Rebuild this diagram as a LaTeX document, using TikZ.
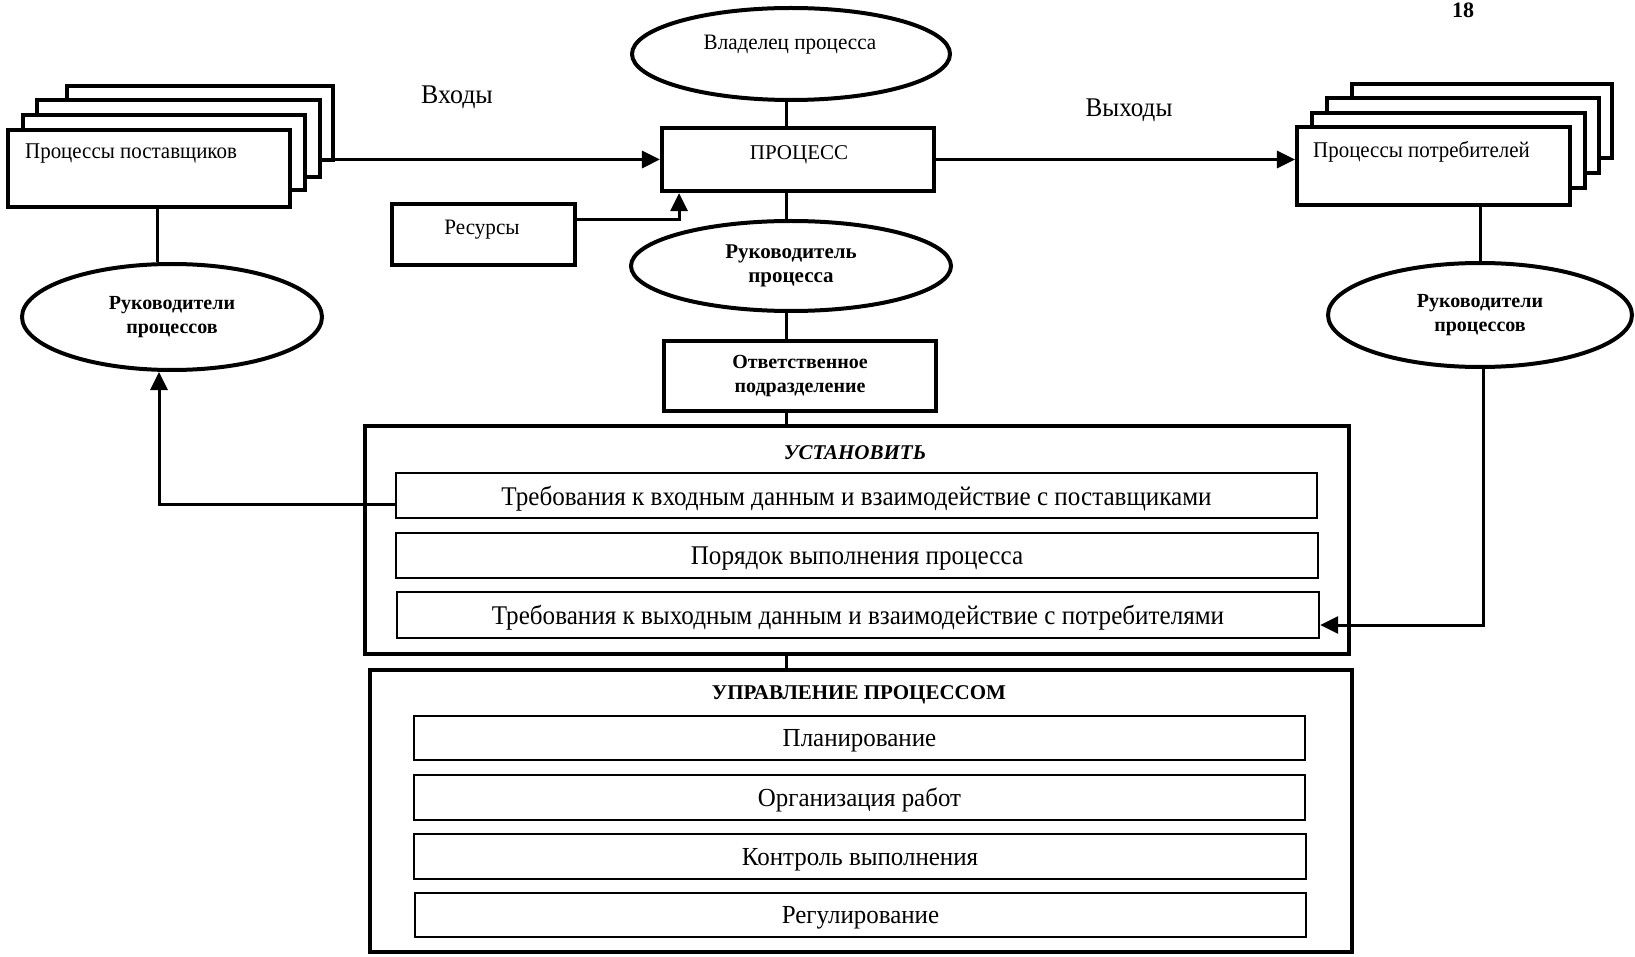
\documentclass[tikz,border=0pt]{standalone}
\usepackage{fontspec}
\setmainfont{Liberation Serif}
\newfontfamily\fA{Liberation Serif}[FakeStretch=0.93]
\newfontfamily\fB{Liberation Serif}[FakeStretch=0.96]
\usetikzlibrary{arrows.meta,shapes.geometric}
\begin{document}
\begin{tikzpicture}[x=1pt,y=-1pt,
  thickbox/.style={draw=black, line width=4.2pt, fill=white, rectangle, inner sep=0pt},
  innerbox/.style={draw=black, line width=2.2pt, fill=white, rectangle, inner sep=0pt, text depth=0pt},
  oval/.style={draw=black, line width=4pt, fill=white, ellipse, inner sep=0pt, align=center},
  conn/.style={line width=3pt},
  arr/.style={conn, -{Triangle[length=18pt,width=17pt]}},
  ]
\useasboundingbox (0,0) rectangle (1635,957);

% page number
\node[font=\fontsize{22}{24}\selectfont\bfseries] (pg) at (1463,10) {18};

% supplier stack
\node[thickbox, minimum width=266pt, minimum height=74pt] (s4) at (200,123) {};
\node[thickbox, minimum width=283pt, minimum height=77pt] (s3) at (178.5,138.5) {};
\node[thickbox, minimum width=282pt, minimum height=75pt] (s2) at (164,152.5) {};
\node[thickbox, minimum width=282pt, minimum height=77pt] (s1) at (149,168.5) {};
\node[anchor=west, inner sep=0pt, font=\fontsize{22.5}{26}\fA] (s1t) at (25,154) {Процессы поставщиков};

% consumer stack
\node[thickbox, minimum width=260pt, minimum height=74pt] (c4) at (1482,121) {};
\node[thickbox, minimum width=272pt, minimum height=75pt] (c3) at (1463,135.5) {};
\node[thickbox, minimum width=273pt, minimum height=75pt] (c2) at (1448.5,150.5) {};
\node[thickbox, minimum width=273pt, minimum height=78pt] (c1) at (1433.5,166) {};
\node[anchor=west, inner sep=0pt, font=\fontsize{22.5}{26}\fA] (c1t) at (1313,152) {Процессы потребителей};

% labels
\node[font=\fontsize{27}{30}\fB] (in) at (457,97) {Входы};
\node[font=\fontsize{27}{30}\fA] (out) at (1129,110) {Выходы};

% centre column
\node[oval, minimum width=318pt, minimum height=92pt] (own) at (791,54) {};
\node[font=\fontsize{22}{25}\fB] (ownt) at (790,45) {Владелец процесса};
\node[thickbox, minimum width=272pt, minimum height=63pt] (proc) at (798,159.5) {};
\node[font=\fontsize{21}{24}\selectfont] (proct) at (799,155) {ПРОЦЕСС};
\node[thickbox, minimum width=183pt, minimum height=61pt] (res) at (483.5,234.5) {};
\node[font=\fontsize{22}{25}\fB] (rest) at (482,230) {Ресурсы};
\node[oval, minimum width=320pt, minimum height=90pt, font=\fontsize{21}{24}\selectfont\bfseries] (head) at (791,266) {Руководитель\\процесса};
\node[thickbox, minimum width=272pt, minimum height=70pt, align=center, font=\fontsize{20}{24}\selectfont\bfseries] (dept) at (800,376) {Ответственное\\подразделение};

% side ellipses
\node[oval, minimum width=300pt, minimum height=106pt, font=\fontsize{20}{24}\selectfont\bfseries] (lm) at (172,317) {Руководители\\процессов};
\node[oval, minimum width=304pt, minimum height=104pt, font=\fontsize{20}{24}\selectfont\bfseries] (rm) at (1480,315) {Руководители\\процессов};

% УСТАНОВИТЬ frame
\node[thickbox, minimum width=984pt, minimum height=228pt] (setf) at (857,540) {};
\node[font=\fontsize{21}{24}\selectfont\bfseries\itshape] (sett) at (855,453) {УСТАНОВИТЬ};
\node[innerbox, minimum width=921pt, minimum height=45pt, font=\fontsize{27}{30}\fA] (ia) at (856.5,495.5) {Требования к входным данным и взаимодействие с поставщиками};
\node[innerbox, minimum width=922pt, minimum height=45pt, font=\fontsize{27}{30}\fA] (ib) at (857,555.5) {Порядок выполнения процесса};
\node[innerbox, minimum width=922pt, minimum height=46pt, font=\fontsize{27}{30}\fA] (ic) at (858,615) {Требования к выходным данным и взаимодействие с потребителями};

% УПРАВЛЕНИЕ frame
\node[thickbox, minimum width=982pt, minimum height=282pt] (mgf) at (861,811) {};
\node[font=\fontsize{21}{24}\selectfont\bfseries] (mgt) at (859,695) {УПРАВЛЕНИЕ ПРОЦЕССОМ};
\node[innerbox, minimum width=891pt, minimum height=44pt, font=\fontsize{26}{29}\fB] (ma) at (859.5,738) {Планирование};
\node[innerbox, minimum width=891pt, minimum height=45pt, font=\fontsize{26}{29}\fB] (mb) at (859.5,797.5) {Организация работ};
\node[innerbox, minimum width=892pt, minimum height=45pt, font=\fontsize{26}{29}\fB] (mc) at (860,856.5) {Контроль выполнения};
\node[innerbox, minimum width=891pt, minimum height=44pt, font=\fontsize{26}{29}\fB] (md) at (860.5,915) {Регулирование};

% helper coordinates
\coordinate (spine) at (786,0);
\coordinate (rk) at (679,0);
\coordinate (sx) at (157,0);
\coordinate (lx) at (159,0);
\coordinate (cx) at (1480,0);
\coordinate (rx) at (1483,0);

% connectors
\draw[arr] (proc.west -| s4.east) -- (proc.west);
\draw[arr] (proc.east) -- (proc.east -| c1.west);
\draw[conn] (own.south -| spine) -- (proc.north -| spine);
\draw[conn] (proc.south -| spine) -- (head.north -| spine);
\draw[conn] (head.south -| spine) -- (dept.north -| spine);
\draw[conn] (dept.south -| spine) -- (setf.north -| spine);
\draw[conn] (setf.south -| spine) -- (mgf.north -| spine);
\draw[arr] ([yshift=14.5pt]res.east) -| (proc.south -| rk);
\draw[conn] (s1.south -| sx) -- (lm.north -| sx);
\draw[conn] (c1.south -| cx) -- (rm.north -| cx);
\draw[arr] ([yshift=-9pt]ia.west) -| (lm.south -| lx);
\draw[arr] (rm.south -| rx) |- ([yshift=-10pt]ic.east);
\end{tikzpicture}
\end{document}
